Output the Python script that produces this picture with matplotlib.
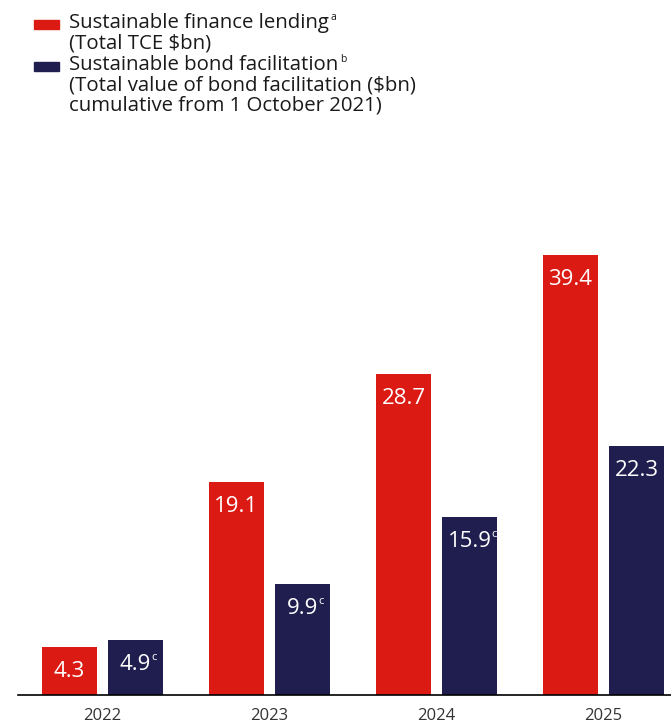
import matplotlib.pyplot as plt
import numpy as np

years = ["2022", "2023", "2024", "2025"]
lending = [4.3, 19.1, 28.7, 39.4]
bonds = [4.9, 9.9, 15.9, 22.3]
bond_notes = ["c", "c", "c", ""]

RED = "#DC1A14"
NAVY = "#201E4F"
W, H = 671, 726

plt.rcParams['font.family'] = ['Open Sans', 'DejaVu Sans']

fig = plt.figure(figsize=(W / 100, H / 100), dpi=100)


def px(x, y):
    # pixel coords (from top-left) -> figure fraction
    return x / W, 1 - y / H


# axes placed so one unit on x = 167 px, one unit on y ~ 11.17 px
left, base = 18, 695
ymax = 42
ppu = 11.17
ax = fig.add_axes([left / W, (H - base) / H, (W - left) / W, ymax * ppu / H])
x = np.arange(len(years))
bw = 55 / 167
off = 33 / 167
ax.bar(x - off, lending, bw, color=RED)
ax.bar(x + off, bonds, bw, color=NAVY)
ax.set_xlim(-84.5 / 167, (W - left - 84.5) / 167)
ax.set_ylim(0, ymax)

for s in ["top", "right", "left"]:
    ax.spines[s].set_visible(False)
ax.spines["bottom"].set_color("black")
ax.spines["bottom"].set_linewidth(1.2)
ax.set_yticks([])
ax.set_xticks(x)
ax.set_xticklabels(years, fontsize=12, color="#333333")
ax.tick_params(axis="x", length=0, pad=9)

lab_dy = 14 / ppu
for i in range(len(years)):
    ax.text(x[i] - off, lending[i] - lab_dy, f"{lending[i]:.1f}", color="white",
            fontsize=16, ha="center", va="top")
    t = ax.text(x[i] + off, bonds[i] - lab_dy, f"{bonds[i]:.1f}", color="white",
                fontsize=16, ha="center", va="top")
    if bond_notes[i]:
        ax.annotate(bond_notes[i], xy=(1, 1), xycoords=t, xytext=(0, 1.5),
                    textcoords="offset points", color="white", fontsize=8,
                    ha="left", va="top")

# legend drawn by hand
fig.patches.append(plt.Rectangle(px(34, 29), 25 / W, 9 / H, color=RED,
                                 transform=fig.transFigure))
fig.patches.append(plt.Rectangle(px(34, 71), 25 / W, 9 / H, color=NAVY,
                                 transform=fig.transFigure))
legend_lines = [
    ("Sustainable finance lending", "a", 28),
    ("(Total TCE $bn)", "", 48),
    ("Sustainable bond facilitation", "b", 70),
    ("(Total value of bond facilitation ($bn)", "", 91),
    ("cumulative from 1 October 2021)", "", 111),
]
for txt, sup, y in legend_lines:
    t = fig.text(*px(69, y), txt, fontsize=14.7, color="#1a1a1a",
                 fontweight="medium", va="baseline", ha="left")
    if sup:
        ax.annotate(sup, xy=(1, 1), xycoords=t, xytext=(1, 1),
                    textcoords="offset points", fontsize=7.5, color="#1a1a1a",
                    ha="left", va="top", annotation_clip=False)

fig.savefig("out.png", dpi=100)
